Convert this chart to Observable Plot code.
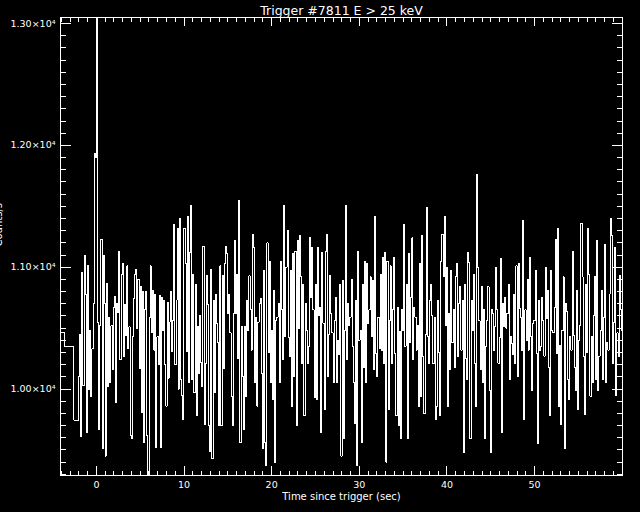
<!DOCTYPE html>
<html>
<head>
<meta charset="utf-8">
<script src="https://cdn.jsdelivr.net/npm/d3@7"></script>
<script src="https://cdn.jsdelivr.net/npm/@observablehq/plot@0.6"></script>
<style>
  html, body { margin: 0; padding: 0; background: #000; }
  svg { display: block; }
</style>
</head>
<body>
<script>
// ---- Data ----
const title = "Trigger #7811 E > 25 keV";
const xLabel = "Time since trigger (sec)";
const yLabel = "Counts/s";

// Pre-trigger wide bins: start times (s) and count rates
const preStart = [-4.096, -3.584, -2.560];
const preCounts = [10460, 10347, 9745];

// Regular bins after -2.048 s, 0.128 s wide
const binStart = -2.048;
const binWidth = 0.128;

const countsA = [10100, 10450, 9610, 10960, 10030, 11100, 10780, 9640, 11010, 10000, 10480, 9940, 10330, 10700];
const countsB = [11930, 11900, 13050];
const countsC = [
  10550, 9670, 10520, 11230, 9510, 11100, 10700, 9450, 10870, 10020,
  10590, 10050, 10520, 10160, 10670, 10760, 9890, 10700, 10630, 11130,
  10240, 10940, 11030, 10270, 10690, 10440, 11010, 10330, 10510, 9620,
  9590, 10430, 10740, 10940, 10980, 10500, 10900, 10170, 10840, 9810,
  10800, 9560, 10650, 10800, 9620, 9290, 10590, 11010, 10460, 10810,
  10320, 10780, 9520, 10430, 10200, 10770, 9520, 10750, 10480, 10730,
  10200, 9860, 10710, 10090, 10550, 10800, 10310, 10560, 11350, 10200,
  10730, 11320, 10000, 11400, 10080, 9950, 9750, 11320, 11030, 10310,
  11420, 10050, 11120, 11510, 10080, 10940, 9970, 10860, 9780, 10510,
  10130, 10600, 10220, 10020, 11170, 9710, 10210, 10930, 10690
];
const countsD = [
  9700, 9490, 10980, 9430, 10730, 9970, 10780, 10540, 10380,
  9700, 11010, 9700, 10930, 10170, 11030, 11170, 11110, 10620,
  10780, 10460, 9940, 9700, 10620, 11220, 10620, 10940, 10250,
  11550, 9560, 10510, 10100, 9670, 10510, 9940, 10730, 10480,
  10930, 10650, 10320, 11270, 11160, 10050, 10590, 9860, 10550,
  10700, 10740, 10130, 9510, 10970, 9560, 9370, 11200, 10300,
  11050, 10050, 10480, 9910, 10810, 9400, 10560, 10590, 10700,
  10050, 11050, 10650, 10240, 11510, 10430, 11000, 11300, 10420,
  10270, 10970, 9860, 11110, 10100, 11130, 9700, 11220, 10500,
  11260, 10920, 10210, 10860, 9780, 10700, 10480, 10210, 10350,
  11240, 10750, 11160, 10650, 9930, 10860, 9910, 11160, 10600,
  10670, 9640, 11120, 10540, 9830, 11130, 11270, 10100, 10450,
  10930, 10620, 10460, 10050, 10560, 10750, 10050, 10400, 10280,
  10860, 9450, 10890, 9590, 10480, 11510, 10240, 10700, 10520,
  10590, 10900, 10350, 10050, 9720, 10730, 9370, 11130, 10400,
  10480, 9560, 10860, 10180, 11050, 10050, 11030, 10540, 10650,
  10920, 10430, 10890, 10160, 11420, 10290, 10100, 10590, 10330,
  10940, 10320, 11080, 10210, 11120, 9400, 11050, 9830, 10560,
  11010, 10210, 10650, 11080, 10290, 9780, 10670, 9700, 10470,
  9590, 10650, 10480, 11350, 10350, 10860, 9590, 11110, 10380,
  10750, 11240, 10240, 10670, 10590, 10320, 10520, 9860
];
const countsE = [
  11030, 9940, 11260, 10270, 9800, 10450,
  11490, 10430, 10210, 10730, 10860, 10600,
  10210, 10590, 9750, 9860, 10730, 10300,
  9780, 11050, 11270, 10920, 11420, 10520,
  11000, 9860, 10620, 10160, 10970, 10380,
  10650, 10180, 10920, 11030, 10270, 10700,
  10840, 10320, 10730, 9480, 10860, 10250,
  10080, 11120, 11040, 9590, 10730, 10480,
  10940, 10210, 9860, 11760, 11000, 10560,
  10160, 10840, 10050, 10650, 9590, 10350,
  10560, 10840, 9990, 9480, 10650, 10620,
  10320, 10510, 11000, 10650, 10210, 10420,
  11070, 9640, 10700, 10510, 10750, 10500,
  10620, 10860, 10080, 10430, 10370, 10280,
  10780, 10210, 11010, 10100, 11030, 10660,
  10590, 10320, 11380, 9750, 10650, 10400,
  10900, 10320, 11080, 10430, 9990, 10540,
  10560, 10970, 10290, 9550, 10730, 10320,
  10350, 10750, 10560, 10270, 11000, 10580,
  10810, 10180, 9780, 10970, 10480, 10460,
  10670, 11230, 10290, 11320, 9860, 10360,
  9710, 10480, 10920, 9510, 10700, 10640,
  10080, 9910, 10430, 10320, 11130, 10440,
  10180, 9990, 10810, 9830, 10400, 10520,
  11360, 10920, 10270, 9790, 10860, 10300,
  11320, 10940, 9940, 10430, 10050, 10600,
  10920, 10080, 11220, 9990, 10270, 10480,
  10810, 10080, 10590, 11190, 10050, 10380,
  10320, 10780, 11400, 11260, 10210, 10550,
  11160, 9950, 10460, 10270, 10930, 10650, 10480
];

const xTicks = [0, 10, 20, 30, 40, 50];
const yTicks = [10000, 11000, 12000, 13000];

// ---- Build table ----
const counts = [].concat(countsA, countsB, countsC, countsD, countsE);
const rows = [];
preStart.forEach((t, i) => rows.push({t, c: preCounts[i]}));
counts.forEach((c, i) => rows.push({t: binStart + i * binWidth, c}));
rows.push({t: binStart + counts.length * binWidth, c: counts[counts.length - 1]});

// ---- Layout ----
const W = 640, H = 512;
const mL = 60, mR = 18, mT = 17, mB = 37;
const pw = W - mL - mR, ph = H - mT - mB;
const xDom = d3.extent(rows, d => d.t);
const yDom = d3.extent(rows, d => d.c);
const xMinor = d3.range(Math.ceil(xDom[0]), xDom[1], 1).filter(d => d % 10 !== 0);
const yMinor = d3.range(Math.ceil(yDom[0] / 100) * 100, yDom[1], 100).filter(d => d % 1000 !== 0);
const xMaj = 9, xMin = 4.5, yMaj = 10.5, yMin = 5.5;
const crisp = "crispEdges";

const chart = Plot.plot({
  width: W, height: H,
  marginLeft: mL, marginRight: mR, marginTop: mT, marginBottom: mB,
  style: {background: "black", color: "white", fontFamily: "DejaVu Sans, sans-serif", fontSize: "9.5px"},
  x: {domain: xDom},
  y: {domain: yDom},
  marks: [
    Plot.line(rows, {x: "t", y: "c", curve: "step-after", stroke: "white", strokeWidth: 1, shapeRendering: crisp}),
    Plot.frame({stroke: "white", shapeRendering: crisp}),
    // inward ticks on all four sides
    Plot.tickX(xTicks, {x: d => d, stroke: "white", insetTop: ph - xMaj, shapeRendering: crisp}),
    Plot.tickX(xTicks, {x: d => d, stroke: "white", insetBottom: ph - xMaj, shapeRendering: crisp}),
    Plot.tickX(xMinor, {x: d => d, stroke: "white", insetTop: ph - xMin, shapeRendering: crisp}),
    Plot.tickX(xMinor, {x: d => d, stroke: "white", insetBottom: ph - xMin, shapeRendering: crisp}),
    Plot.tickY(yTicks, {y: d => d, stroke: "white", insetRight: pw - yMaj, shapeRendering: crisp}),
    Plot.tickY(yTicks, {y: d => d, stroke: "white", insetLeft: pw - yMaj, shapeRendering: crisp}),
    Plot.tickY(yMinor, {y: d => d, stroke: "white", insetRight: pw - yMin, shapeRendering: crisp}),
    Plot.tickY(yMinor, {y: d => d, stroke: "white", insetLeft: pw - yMin, shapeRendering: crisp}),
    Plot.axisX({ticks: xTicks, tickSize: 0, tickPadding: 6, tickFormat: d => String(d), label: null}),
    Plot.axisY({ticks: yTicks, tickSize: 0, tickPadding: 5, tickFormat: d => d3.format(".2f")(d / 1e4) + "×10⁴", label: null}),
    Plot.text([title], {frameAnchor: "top", dy: -11, fontSize: 12.5, fill: "white"}),
    Plot.text([xLabel], {frameAnchor: "bottom", dy: 24, fontSize: 10, fill: "white"}),
    Plot.text([yLabel], {frameAnchor: "left", dx: -58.5, rotate: -90, fontSize: 10, lineAnchor: "bottom", fill: "white"})
  ]
});
document.body.appendChild(chart);
</script>
</body>
</html>
